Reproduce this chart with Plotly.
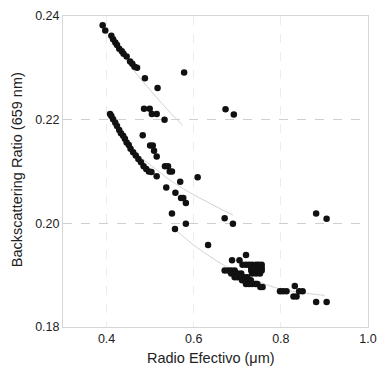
import plotly.graph_objects as go

# Scatter data: effective radius (um) vs backscattering ratio (659 nm)
radius = [
    # upper branch
    0.391, 0.397, 0.411, 0.415, 0.420, 0.424, 0.429, 0.435, 0.439, 0.446,
    0.454, 0.459, 0.464, 0.470, 0.488, 0.517, 0.578,
    # group near 0.22
    0.486, 0.499, 0.504, 0.515, 0.533, 0.673, 0.692,
    # lower main branch
    0.408, 0.411, 0.415, 0.420, 0.424, 0.429, 0.433, 0.438, 0.442, 0.446,
    0.451, 0.455, 0.461, 0.467, 0.473, 0.479, 0.485, 0.491, 0.497, 0.503, 0.515,
    # secondary group
    0.483, 0.500, 0.506, 0.509, 0.515, 0.534, 0.541, 0.545, 0.550, 0.569,
    0.609, 0.537, 0.558, 0.571, 0.576, 0.582, 0.550, 0.582, 0.557, 0.633,
    0.671, 0.690, 0.881, 0.905,
    # dense cluster 0.67-0.76
    0.688, 0.705, 0.720,
    0.712, 0.720, 0.727, 0.734, 0.743, 0.749, 0.756,
    0.732, 0.740, 0.749, 0.756,
    0.671, 0.679, 0.686, 0.694, 0.732, 0.740, 0.749, 0.756,
    0.686, 0.694, 0.701, 0.709, 0.734, 0.743, 0.752,
    0.694, 0.701, 0.709, 0.716, 0.723,
    0.711, 0.718, 0.725, 0.731,
    0.720, 0.727, 0.734, 0.742, 0.746,
    0.753, 0.758,
    # group near 0.8
    0.798, 0.805, 0.813, 0.832, 0.829, 0.836, 0.842, 0.850,
    0.881, 0.905,
]
bsr = [
    0.2382, 0.2372, 0.2362, 0.2355, 0.2349, 0.2344, 0.2337, 0.2332, 0.2327, 0.2322,
    0.2312, 0.2308, 0.2302, 0.2300, 0.2280, 0.2261, 0.2291,
    0.2221, 0.2221, 0.2211, 0.2211, 0.2200, 0.2220, 0.2210,
    0.2211, 0.2207, 0.2201, 0.2194, 0.2188, 0.2180, 0.2174, 0.2169, 0.2163, 0.2156,
    0.2151, 0.2144, 0.2137, 0.2131, 0.2124, 0.2118, 0.2110, 0.2105, 0.2100, 0.2099, 0.2091,
    0.2170, 0.2150, 0.2150, 0.2140, 0.2129, 0.2110, 0.2110, 0.2100, 0.2100, 0.2080,
    0.2089, 0.2069, 0.2059, 0.2049, 0.2049, 0.2039, 0.2019, 0.1999, 0.1989, 0.1958,
    0.2010, 0.1999, 0.2019, 0.2009,
    0.1929, 0.1929, 0.1939,
    0.1920, 0.1920, 0.1920, 0.1920, 0.1920, 0.1920, 0.1920,
    0.1914, 0.1914, 0.1914, 0.1914,
    0.1909, 0.1909, 0.1909, 0.1909, 0.1909, 0.1909, 0.1909, 0.1909,
    0.1903, 0.1903, 0.1903, 0.1903, 0.1903, 0.1903, 0.1903,
    0.1896, 0.1896, 0.1896, 0.1896, 0.1896,
    0.1890, 0.1890, 0.1890, 0.1890,
    0.1883, 0.1883, 0.1883, 0.1883, 0.1883,
    0.1877, 0.1877,
    0.1869, 0.1869, 0.1869, 0.1879, 0.1859, 0.1859, 0.1869, 0.1869,
    0.1848, 0.1848,
]

# Faint fitted curves
upper_fit_x = [0.390, 0.430, 0.470, 0.490, 0.540, 0.575]
upper_fit_y = [0.2382, 0.2332, 0.2287, 0.2267, 0.2219, 0.2189]
middle_fit_x = [0.470, 0.500, 0.560, 0.627, 0.690]
middle_fit_y = [0.2133, 0.2113, 0.2075, 0.2043, 0.2016]
lower_fit_x = [0.556, 0.600, 0.650, 0.700, 0.750, 0.800, 0.850, 0.900]
lower_fit_y = [0.1989, 0.1958, 0.1929, 0.1905, 0.1887, 0.1873, 0.1866, 0.1861]

x_ticks = [0.4, 0.6, 0.8, 1.0]
y_ticks = [0.18, 0.20, 0.22, 0.24]

fig = go.Figure()
for fx, fy in [(upper_fit_x, upper_fit_y), (middle_fit_x, middle_fit_y), (lower_fit_x, lower_fit_y)]:
    fig.add_trace(go.Scatter(x=fx, y=fy, mode="lines",
                             line=dict(color="#d2d2d2", width=1, shape="spline"),
                             hoverinfo="skip", showlegend=False))
fig.add_trace(go.Scatter(x=radius, y=bsr, mode="markers",
                         marker=dict(color="#111111", size=6.5, line=dict(width=0)),
                         showlegend=False))

font_family = "Liberation Sans, Arial, sans-serif"
fig.update_layout(
    width=386, height=369,
    margin=dict(l=63, r=9, t=13, b=42),
    paper_bgcolor="white", plot_bgcolor="white",
    font=dict(family=font_family, color="#222222", size=12),
    annotations=[
        dict(text="Radio Efectivo (μm)", xref="paper", yref="paper",
             x=0.484, y=-0.099, xanchor="center", yanchor="middle",
             showarrow=False, font=dict(size=14.5)),
        dict(text="Backscattering Ratio (659 nm)", xref="paper", yref="paper",
             x=-0.150, y=0.505, xanchor="center", yanchor="middle",
             textangle=-90, showarrow=False, font=dict(size=14.5)),
    ],
)
fig.update_xaxes(
    range=[0.3, 1.0], tickvals=x_ticks, ticktext=[f"{v:.1f}" for v in x_ticks],
    showgrid=True, gridcolor="#ececec", griddash="dash", gridwidth=1,
    showline=True, linecolor="#d6d6d6", linewidth=1, mirror=True,
    zeroline=False, ticks="", tickfont=dict(size=12.5),
)
fig.update_yaxes(
    range=[0.18, 0.24], tickvals=y_ticks, ticktext=[f"{v:.2f}" for v in y_ticks],
    showgrid=True, gridcolor="#cfcfcf", griddash="dash", gridwidth=1,
    showline=True, linecolor="#d6d6d6", linewidth=1, mirror=True,
    zeroline=False, ticks="", tickfont=dict(size=12.5),
)
fig.write_html("out.html", config={"displayModeBar": False},
               post_script="document.body.style.margin='0';")
